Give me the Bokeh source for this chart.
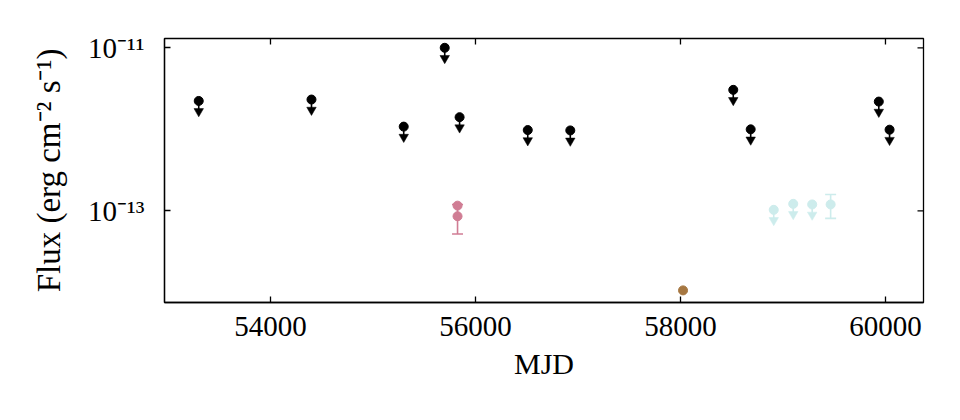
from bokeh.plotting import figure
from bokeh.models import FixedTicker, Whisker, TeeHead, ColumnDataSource
from bokeh.embed import file_html
from bokeh.resources import INLINE

# ---------------- data ----------------
black_mjd = [53300, 54400, 55300, 55700, 55845, 56510, 56925, 58515, 58685, 59935, 60040]
black_flux = [2.23e-12, 2.32e-12, 1.08e-12, 1.0e-11, 1.41e-12, 9.8e-13, 9.7e-13,
              3.05e-12, 1.0e-12, 2.19e-12, 9.9e-13]

pink_mjd = [55825, 55825]
pink_flux = [1.16e-13, 8.6e-14]
pink_err = [0.0, 3.4e-14]

brown_mjd = [58025]
brown_flux = [1.06e-14]

cyan_mjd = [58910, 59100, 59285, 59465]
cyan_flux = [1.03e-13, 1.22e-13, 1.2e-13, 1.2e-13]
cyan_limit = [True, True, True, False]
cyan_err = [0.0, 0.0, 0.0, 3.9e-14]

x_ticks = [54000, 56000, 58000, 60000]
y_ticks = [1e-11, 1e-13]
y_tick_labels = ["10\u207b\u00b9\u00b9", "10\u207b\u00b9\u00b3"]

X_START, X_END = 52966, 60371
Y_START, Y_END = 7.53e-15, 1.30e-11

# ---------------- style ----------------
FONT = "Liberation Serif"
BLACK = "#000000"
PINK = "#D07D94"
BROWN = "#A67741"
CYAN = "#CDECEC"
ARROW = 0.745      # arrow-head position factor for upper limits
MSIZE = 9
TICK = 6
LW = 1.3

p = figure(width=944, height=404, x_range=(X_START, X_END), y_range=(Y_START, Y_END),
           y_axis_type="log", output_backend="svg", toolbar_location=None,
           min_border_left=164, min_border_right=21, min_border_top=38,
           min_border_bottom=102)
p.grid.visible = False
p.outline_line_color = "black"
p.outline_line_width = LW

p.xaxis.ticker = FixedTicker(ticks=x_ticks, minor_ticks=[])
p.yaxis.ticker = FixedTicker(ticks=y_ticks, minor_ticks=[])
p.yaxis.major_label_overrides = dict(zip(y_ticks, y_tick_labels))

for ax in (p.xaxis[0], p.yaxis[0]):
    ax.axis_line_color = "black"
    ax.axis_line_width = LW
    ax.major_tick_in = TICK
    ax.major_tick_out = 0
    ax.major_tick_line_width = LW
    ax.major_tick_line_color = "black"
    ax.minor_tick_in = 0
    ax.minor_tick_out = 0
    ax.major_label_text_font = FONT
    ax.major_label_text_font_size = "29px"
    ax.major_label_text_color = "black"
    ax.axis_label_text_font = FONT
    ax.axis_label_text_font_style = "normal"
    ax.axis_label_text_color = "black"

p.xaxis.axis_label = "MJD"
p.xaxis.axis_label_text_font_size = "30px"
p.yaxis.axis_label = "Flux (erg cm\u207b\u00b2 s\u207b\u00b9)"
p.yaxis.axis_label_text_font_size = "33px"
p.xaxis.major_label_standoff = 14
p.xaxis.axis_label_standoff = 8
p.yaxis.major_label_standoff = 20
p.yaxis.axis_label_standoff = 18

# inward ticks on the top and right edges of the box
p.ray(x=x_ticks, y=[Y_END] * len(x_ticks), length=TICK, length_units="screen",
      angle=-90, angle_units="deg", line_color="black", line_width=LW)
p.ray(x=[X_END] * len(y_ticks), y=y_ticks, length=TICK, length_units="screen",
      angle=180, angle_units="deg", line_color="black", line_width=LW)


def upper_limits(xs, ys, color):
    arrow_y = [y * ARROW for y in ys]
    p.segment(x0=xs, y0=ys, x1=xs, y1=arrow_y, line_color=color, line_width=1.6)
    p.scatter(xs, arrow_y, marker="inverted_triangle", size=9.5, fill_color=color,
              line_color=color, line_width=0.5)
    p.scatter(xs, ys, marker="circle", size=MSIZE, fill_color=color, line_color=color)


def detections(xs, ys, errs, color):
    ex = [x for x, e in zip(xs, errs) if e > 0]
    ey = [y for y, e in zip(ys, errs) if e > 0]
    ee = [e for e in errs if e > 0]
    if ex:
        src = ColumnDataSource(dict(x=ex, lo=[y - e for y, e in zip(ey, ee)],
                                    hi=[y + e for y, e in zip(ey, ee)]))
        w = Whisker(source=src, base="x", lower="lo", upper="hi", dimension="height",
                    line_color=color, line_width=1.6,
                    upper_head=TeeHead(size=11, line_color=color, line_width=1.6),
                    lower_head=TeeHead(size=11, line_color=color, line_width=1.6))
        p.add_layout(w)
    p.scatter(xs, ys, marker="circle", size=MSIZE, fill_color=color, line_color=color)


upper_limits(black_mjd, black_flux, BLACK)
detections(pink_mjd, pink_flux, pink_err, PINK)
detections(brown_mjd, brown_flux, [0.0], BROWN)
cl_x = [x for x, l in zip(cyan_mjd, cyan_limit) if l]
cl_y = [y for y, l in zip(cyan_flux, cyan_limit) if l]
upper_limits(cl_x, cl_y, CYAN)
cd_x = [x for x, l in zip(cyan_mjd, cyan_limit) if not l]
cd_y = [y for y, l in zip(cyan_flux, cyan_limit) if not l]
cd_e = [e for e, l in zip(cyan_err, cyan_limit) if not l]
detections(cd_x, cd_y, cd_e, CYAN)

open("out.html", "w").write(file_html(p, INLINE))
